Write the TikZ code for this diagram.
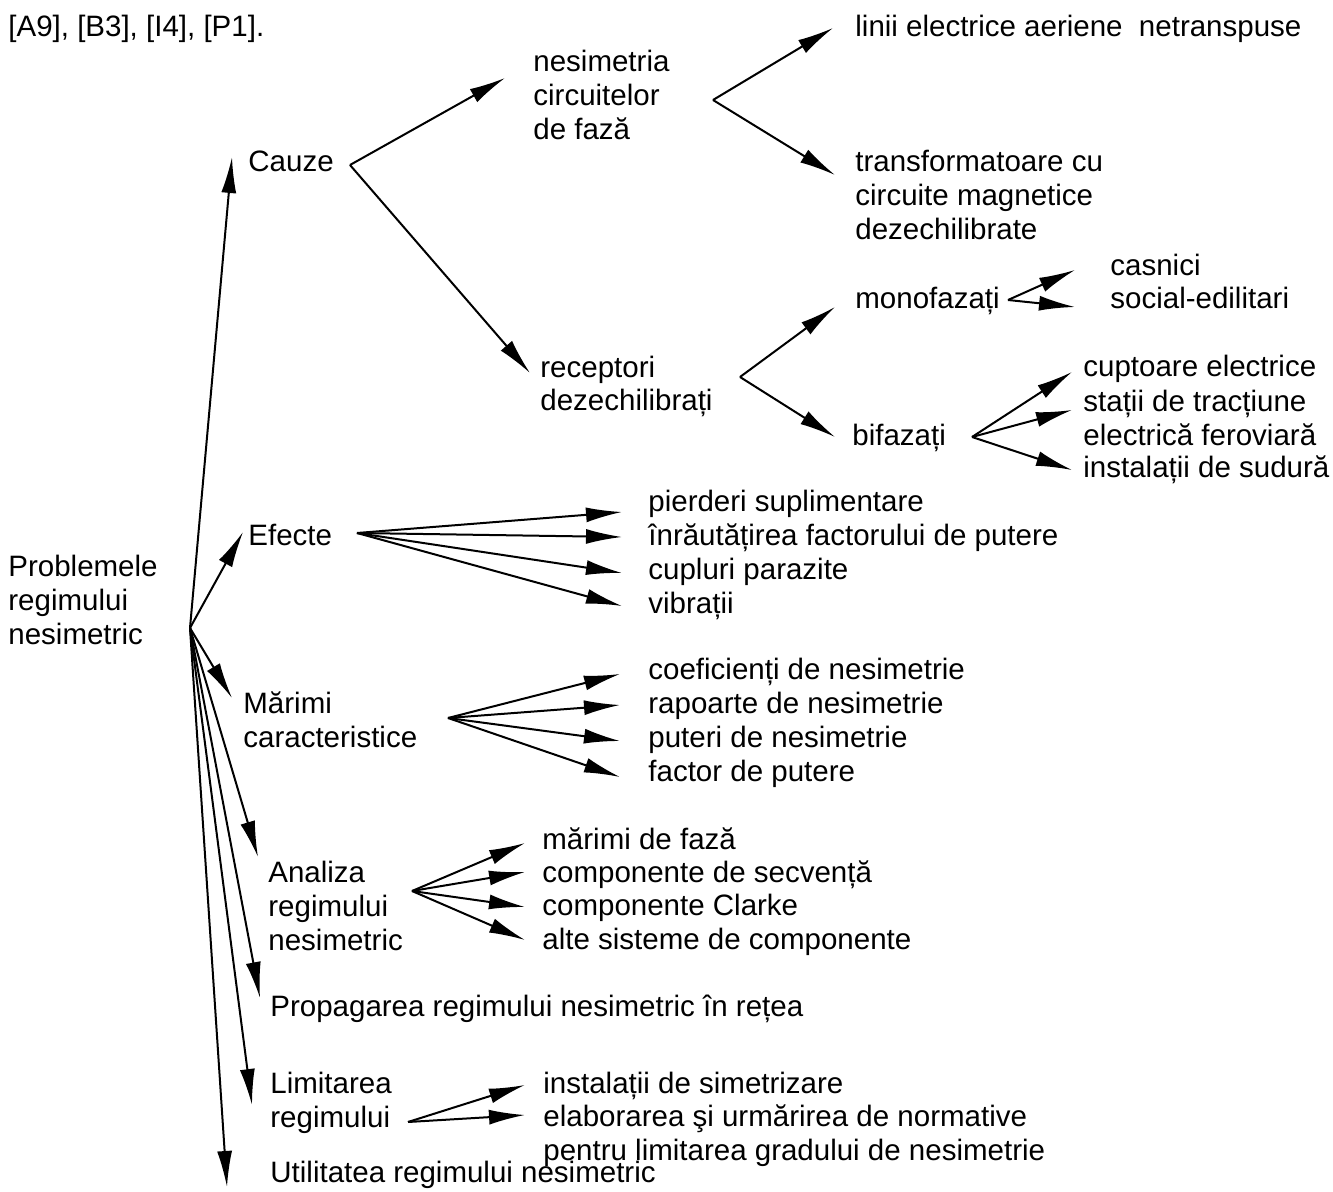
\documentclass[tikz,border=0pt]{standalone}
\usepackage{fontspec}
\setmainfont{Liberation Sans}
\usetikzlibrary{arrows.meta,calc}
\tikzset{
  lbl/.style={anchor=base west, inner sep=0pt, align=left, font=\fontsize{14.75}{17}\selectfont},
  arr/.style={-{Latex[length=18pt,width=7.5pt]}, line width=1pt}
}
\begin{document}
\begin{tikzpicture}[x=0.5pt,y=-0.5pt]
    \useasboundingbox (0,0) rectangle (1333,1192);
    \node[lbl] (refs) at (8,37) {[A9], [B3], [I4], [P1].};

    % root (multi-line nodes sit on their last baseline)
    \node[lbl] (problemele) at (8,644) {Problemele\\regimului\\nesimetric};
    \coordinate (hub) at (190,628);

    % first level
    \node[lbl] (cauze) at (248,172) {Cauze};
    \node[lbl] (efecte) at (248,545) {Efecte};
    \node[lbl] (marimi) at (243,747) {Mărimi\\caracteristice};
    \node[lbl] (analiza) at (268,950) {Analiza\\regimului\\nesimetric};
    \node[lbl] (propagarea) at (270,1016) {Propagarea regimului nesimetric în rețea};
    \node[lbl] (limitarea) at (270,1127) {Limitarea\\regimului};
    \node[lbl] (utilitatea) at (270,1182) {Utilitatea regimului nesimetric};

    \draw[arr] (hub) -- ($(cauze.base west)+(-16,-15)$);
    \draw[arr] (hub) -- ($(efecte.base west)+(-5,-13)$);
    \draw[arr] (hub) -- ($(marimi.base west)+(-11,-49)$);
    \draw[arr] (hub) -- ($(analiza.base west)+(-10,-93)$);
    \draw[arr] (hub) -- ($(propagarea.base west)+(-10,-18)$);
    \draw[arr] (hub) -- ($(limitarea.base west)+(-18,-22)$);
    \draw[arr] (hub) -- ($(utilitatea.base west)+(-43,5)$);

    % Cauze
    \node[lbl] (nesimetria) at (533,140) {nesimetria\\circuitelor\\de fază};
    \node[lbl] (receptori) at (540,411) {receptori\\dezechilibrați};
    \coordinate (cauzeFork) at (350,165);
    \draw[arr] (cauzeFork) -- ($(nesimetria.base west)+(-28,-62)$);
    \draw[arr] (cauzeFork) -- ($(receptori.base west)+(-10,-38)$);

    \node[lbl] (linii) at (855,37) {linii electrice aeriene~~netranspuse};
    \node[lbl] (transf) at (855,240) {transformatoare cu\\circuite magnetice\\dezechilibrate};
    \coordinate (nesimFork) at (713,100);
    \draw[arr] (nesimFork) -- ($(linii.base west)+(-22,-9)$);
    \draw[arr] (nesimFork) -- ($(transf.base west)+(-20,-65)$);

    \node[lbl] (monofazati) at (855,309) {monofazați};
    \node[lbl] (bifazati) at (852,445) {bifazați};
    \coordinate (recepFork) at (740,377);
    \draw[arr] (recepFork) -- ($(monofazati.base west)+(-20,-2)$);
    \draw[arr] (recepFork) -- ($(bifazati.base west)+(-17,-8)$);

    \node[lbl] (casnici) at (1110,276) {casnici};
    \node[lbl] (social) at (1110,309) {social-edilitari};
    \coordinate (monoFork) at (1008,300);
    \draw[arr] (monoFork) -- ($(casnici.base west)+(-35,-6)$);
    \draw[arr] (monoFork) -- ($(social.base west)+(-35,-2)$);

    \node[lbl] (cuptoare) at (1083,377) {cuptoare electrice};
    \node[lbl] (statii) at (1083,445) {stații de tracțiune\\electrică feroviară};
    \node[lbl] (sudura) at (1083,477) {instalații de sudură};
    \coordinate (bifFork) at (972,437);
    \draw[arr] (bifFork) -- ($(cuptoare.base west)+(-11,-5)$);
    \draw[arr] (bifFork) -- ($(statii.base west)+(-11,-35)$);
    \draw[arr] (bifFork) -- ($(sudura.base west)+(-11,-7)$);

    % Efecte
    \node[lbl] (pierderi) at (648,511) {pierderi suplimentare};
    \node[lbl] (factorP) at (648,545) {înrăutățirea factorului de putere};
    \node[lbl] (cupluri) at (648,579) {cupluri parazite};
    \node[lbl] (vibratii) at (648,613) {vibrații};
    \coordinate (efecteFork) at (357,533);
    \draw[arr] (efecteFork) -- ($(pierderi.base west)+(-26,1)$);
    \draw[arr] (efecteFork) -- ($(factorP.base west)+(-26,-8)$);
    \draw[arr] (efecteFork) -- ($(cupluri.base west)+(-26,-6)$);
    \draw[arr] (efecteFork) -- ($(vibratii.base west)+(-26,-7)$);

    % Marimi caracteristice
    \node[lbl] (coef) at (648,679) {coeficienți de nesimetrie};
    \node[lbl] (rapoarte) at (648,713) {rapoarte de nesimetrie};
    \node[lbl] (puteri) at (648,747) {puteri de nesimetrie};
    \node[lbl] (factor) at (648,781) {factor de putere};
    \coordinate (marimiFork) at (448,718);
    \draw[arr] (marimiFork) -- ($(coef.base west)+(-28,-5)$);
    \draw[arr] (marimiFork) -- ($(rapoarte.base west)+(-28,-8)$);
    \draw[arr] (marimiFork) -- ($(puteri.base west)+(-28,-6)$);
    \draw[arr] (marimiFork) -- ($(factor.base west)+(-28,-4)$);

    % Analiza regimului nesimetric
    \node[lbl] (fazaM) at (542,849) {mărimi de fază};
    \node[lbl] (secventa) at (542,882) {componente de secvență};
    \node[lbl] (clarke) at (542,915) {componente Clarke};
    \node[lbl] (alte) at (542,949) {alte sisteme de componente};
    \coordinate (analizaFork) at (412,891);
    \draw[arr] (analizaFork) -- ($(fazaM.base west)+(-17,-6)$);
    \draw[arr] (analizaFork) -- ($(secventa.base west)+(-17,-10)$);
    \draw[arr] (analizaFork) -- ($(clarke.base west)+(-17,-8)$);
    \draw[arr] (analizaFork) -- ($(alte.base west)+(-17,-9)$);

    % Limitarea regimului
    \node[lbl] (simetriz) at (543,1093) {instalații de simetrizare};
    \node[lbl] (normative) at (543,1160) {elaborarea şi urmărirea de normative\\pentru limitarea gradului de nesimetrie};
    \coordinate (limitFork) at (408,1122);
    \draw[arr] (limitFork) -- ($(simetriz.base west)+(-18,-8)$);
    \draw[arr] (limitFork) -- ($(normative.base west)+(-18,-45)$);
\end{tikzpicture}
\end{document}
